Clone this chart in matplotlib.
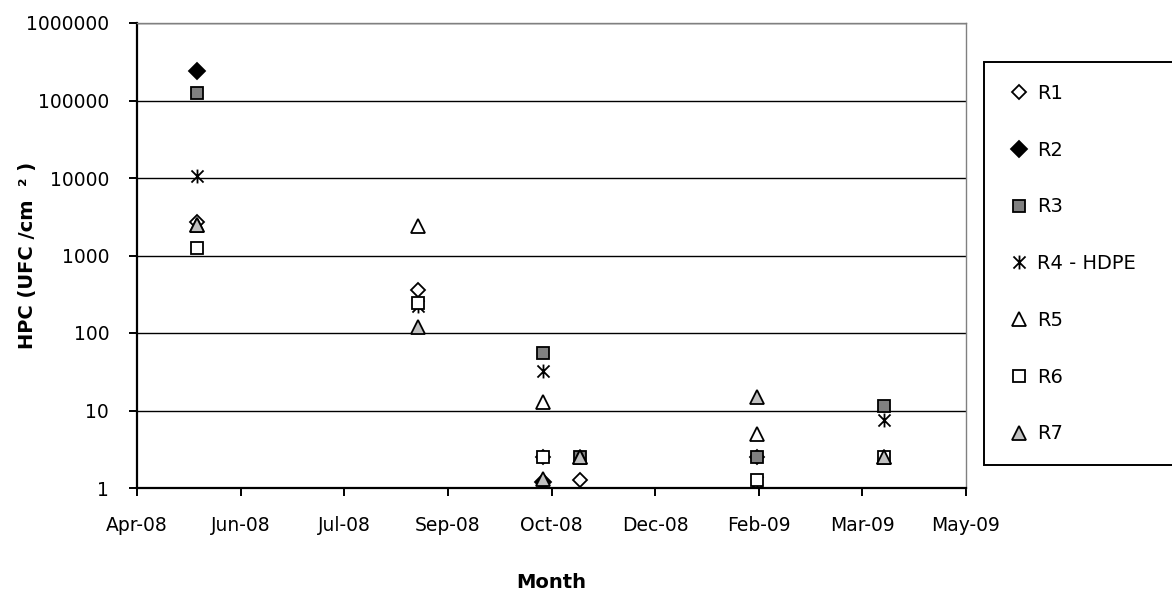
import numpy as np
import matplotlib
matplotlib.use("Agg")
import matplotlib.pyplot as plt
import matplotlib.dates as mdates
from matplotlib.path import Path
from matplotlib.ticker import FixedLocator, FuncFormatter, NullLocator
import datetime as dt

# Sampling campaigns
sample_dates = ["2008-05-18", "2008-08-28", "2008-10-25", "2008-11-11", "2009-02-01", "2009-04-01"]
nan = np.nan

# Heterotrophic plate counts (UFC/cm2) per reactor
r1 = [2700, 360, 2.5, 1.25, 2.5, nan]
r2 = [240000, nan, 1.2, nan, nan, nan]
r3 = [126000, nan, 55, 2.5, 2.5, 11.5]
r4 = [10500, 225, 32, nan, 1.2, 7.5]
r5 = [2500, 2400, 13, 2.5, 5, 2.5]
r6 = [1250, 245, 2.5, nan, 1.25, 2.5]
r7 = [2500, 120, 1.3, 2.5, 15, 2.5]

series_names = ["R1", "R2", "R3", "R4 - HDPE", "R5", "R6", "R7"]
y_ticks = [1, 10, 100, 1000, 10000, 100000, 1000000]
x_start = "2008-04-20"
tick_step_days = 48
n_x_ticks = 9

plt.rcParams["font.family"] = ["DejaVu Sans"]

W, H = 1172, 592
fig = plt.figure(figsize=(W / 100, H / 100), dpi=100)
ax = fig.add_axes([137 / W, 1 - 488 / H, (966 - 137) / W, (488 - 23) / H])

dates = [dt.datetime.strptime(d, "%Y-%m-%d") for d in sample_dates]

# asterisk marker: X with a vertical bar
asterisk = Path(
    [(-1, -1), (1, 1), (-1, 1), (1, -1), (0, -1.15), (0, 1.15)],
    [Path.MOVETO, Path.LINETO, Path.MOVETO, Path.LINETO, Path.MOVETO, Path.LINETO],
)

styles = [
    dict(marker="D", ms=7.5, mfc="white", mec="black"),
    dict(marker="D", ms=8, mfc="black", mec="black"),
    dict(marker="s", ms=8.5, mfc="#808080", mec="black"),
    dict(marker=asterisk, ms=10, mfc="none", mec="black"),
    dict(marker="^", ms=10, mfc="white", mec="black"),
    dict(marker="s", ms=8.5, mfc="white", mec="black"),
    dict(marker="^", ms=10, mfc="#c0c0c0", mec="black"),
]

handles = []
for name, vals, st in zip(series_names, [r1, r2, r3, r4, r5, r6, r7], styles):
    h, = ax.plot(dates, vals, linestyle="none", mew=1.3, label=name, zorder=3, **st)
    handles.append(h)

ax.set_yscale("log")
ax.set_ylim(1, 1000000)
ax.yaxis.set_major_locator(FixedLocator(y_ticks))
ax.yaxis.set_minor_locator(NullLocator())
ax.yaxis.set_major_formatter(FuncFormatter(lambda v, p: f"{int(round(v))}"))
ax.grid(axis="y", which="major", color="black", linewidth=1.0, zorder=1)

x0 = dt.datetime.strptime(x_start, "%Y-%m-%d")
x_ticks = [x0 + dt.timedelta(days=tick_step_days * k) for k in range(n_x_ticks)]
ax.set_xlim(x_ticks[0], x_ticks[-1])
ax.xaxis.set_major_locator(FixedLocator(mdates.date2num(x_ticks)))
ax.xaxis.set_minor_locator(NullLocator())
ax.xaxis.set_major_formatter(mdates.DateFormatter("%b-%y"))

for s in ["left", "bottom"]:
    ax.spines[s].set_color("black")
    ax.spines[s].set_linewidth(1.6)
for s in ["top", "right"]:
    ax.spines[s].set_color("#808080")
    ax.spines[s].set_linewidth(1.0)

ax.tick_params(axis="both", direction="out", length=6, width=1.4, labelsize=13.5, colors="black")
ax.tick_params(axis="y", pad=14)
ax.tick_params(axis="x", pad=14)

ax.set_xlabel("Month", fontsize=14, fontweight="bold")
ax.xaxis.set_label_coords(0.5, -(583 - 488) / (488 - 23), transform=ax.transAxes)
ax.xaxis.label.set_verticalalignment("center")
ax.set_ylabel("HPC (UFC /cm  ² )", fontsize=14, fontweight="bold")
ax.yaxis.set_label_coords(-(137 - 28) / (966 - 137), 0.5, transform=ax.transAxes)
ax.yaxis.label.set_verticalalignment("center")

leg = fig.legend(
    handles=handles,
    loc="upper left",
    bbox_to_anchor=(984 / W, 1 - 62 / H, 0.25, 0.0),
    bbox_transform=fig.transFigure,
    mode="expand",
    fontsize=14,
    frameon=True,
    fancybox=False,
    edgecolor="black",
    framealpha=1,
    borderpad=1.13,
    labelspacing=1.94,
    handlelength=1.3,
    handletextpad=0.3,
    borderaxespad=0,
)
leg.get_frame().set_linewidth(1.4)

fig.savefig("out.png", dpi=100)
